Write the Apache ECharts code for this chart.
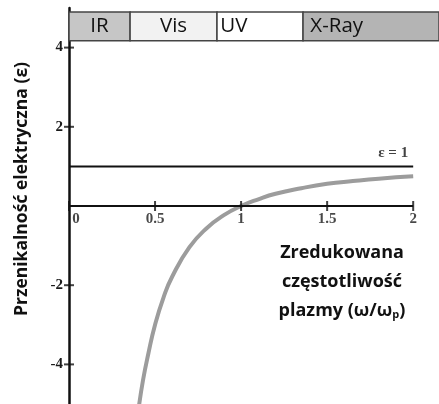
<!DOCTYPE html>
<html>
<head>
<meta charset="utf-8">
<script src="https://cdn.jsdelivr.net/npm/echarts@6/dist/echarts.min.js"></script>
<style>
  html, body { margin: 0; padding: 0; background: #fff; }
  #chart { width: 439px; height: 404px; }
</style>
</head>
<body>
<div id="chart"></div>
<script>
// values
const curveX = [0.405, 0.43, 0.46, 0.5, 0.55, 0.6, 0.7, 0.8, 0.9, 1.0, 1.1, 1.2, 1.35, 1.5, 1.65, 1.8, 2.0];
const curveY = [-5.1, -4.4, -3.75, -3.0, -2.3, -1.78, -1.04, -0.56, -0.23, 0, 0.17, 0.31, 0.45, 0.56, 0.63, 0.69, 0.75];
const xTicks = [0, 0.5, 1, 1.5, 2];
const yTicks = [4, 2, -2, -4];
const bandNames = ['IR', 'Vis', 'UV', 'X-Ray'];
const bandEdges = [0, 0.355, 0.86, 1.36, 2.15];
const bandColors = ['#c6c6c6', '#f2f2f2', '#ffffff', '#b4b4b4'];
const epsLine = [[0, 1], [2, 1]];

const serif = '"Liberation Serif", "DejaVu Serif", serif';
const sans = '"Open Sans", "Noto Sans", sans-serif';

const myChart = echarts.init(document.getElementById('chart'));

const bandData = bandNames.map((name, i) => {
  const centred = i < 2;
  return [
    {
      xAxis: bandEdges[i], yAxis: 4.17,
      itemStyle: { color: bandColors[i], borderColor: '#444', borderWidth: 1.5 },
      label: {
        show: true, formatter: name,
        position: centred ? 'inside' : 'insideLeft',
        distance: i === 3 ? 8 : 4,
        color: '#111', fontFamily: sans, fontWeight: 500, fontSize: 20.5
      }
    },
    { xAxis: bandEdges[i + 1], yAxis: 4.9 }
  ];
});

const tickLabel = {
  color: '#1a1a1a', fontFamily: serif, fontWeight: 'bold', fontSize: 15
};

const option = {
  animation: false,
  grid: { left: 69, right: 0, top: 8, bottom: 0, containLabel: false },
  xAxis: {
    type: 'value', min: 0, max: 2.15,
    axisLine: { show: false },
    axisTick: { show: false },
    splitLine: { show: false },
    axisLabel: { show: false }
  },
  yAxis: {
    type: 'value', min: -5, max: 5,
    axisLine: { show: true, lineStyle: { color: '#111', width: 2.5 } },
    axisTick: { show: false },
    splitLine: { show: false },
    axisLabel: Object.assign({ customValues: yTicks, margin: 6 }, tickLabel)
  },
  series: [
    {
      name: 'band',
      type: 'line',
      data: [],
      markArea: { silent: true, data: bandData }
    },
    {
      name: 'curve',
      type: 'line',
      smooth: true,
      showSymbol: false,
      lineStyle: { color: '#9c9c9c', width: 4 },
      data: curveX.map((x, i) => [x, curveY[i]]),
      z: 2
    },
    {
      name: 'xaxis',
      type: 'line',
      showSymbol: false,
      lineStyle: { color: '#111', width: 2 },
      data: [[xTicks[0], 0], [xTicks[xTicks.length - 1], 0]],
      z: 3
    },
    {
      name: 'eps1',
      type: 'line',
      showSymbol: false,
      lineStyle: { color: '#111', width: 2 },
      data: epsLine,
      z: 3
    },
    {
      name: 'eps1label',
      type: 'scatter',
      symbolSize: 0,
      data: [epsLine[1]],
      label: Object.assign({
        show: true, position: 'top', distance: 6, offset: [-20, 0],
        formatter: 'ε = 1'
      }, tickLabel, { color: '#111' })
    },
    {
      // x ticks crossing the axis, with their labels underneath
      name: 'xticks',
      type: 'scatter',
      symbol: 'rect',
      symbolSize: [2, 10],
      itemStyle: { color: '#111' },
      data: xTicks.map(x => ({
        value: [x, 0],
        label: { offset: [x === 0 ? 7 : 0, 0] }
      })),
      label: Object.assign({
        show: true, position: 'bottom', distance: 1,
        formatter: p => String(p.value[0])
      }, tickLabel),
      z: 4
    },
    {
      name: 'yticks',
      type: 'scatter',
      symbol: 'rect',
      symbolSize: [10, 2],
      itemStyle: { color: '#111' },
      data: yTicks.map(y => [0, y]),
      z: 4
    }
  ],
  graphic: [
    {
      type: 'text',
      x: 22, y: 189,
      rotation: Math.PI / 2,
      style: {
        text: 'Przenikalność elektryczna (ε)',
        font: 'bold 17.5px ' + sans,
        fill: '#111',
        textAlign: 'center',
        textVerticalAlign: 'middle'
      }
    },
    {
      type: 'text',
      x: 342, y: 238,
      style: {
        text: 'Zredukowana\nczęstotliwość\nplazmy (ω/ω{p|p})',
        font: 'bold 18px ' + sans,
        fill: '#111',
        lineHeight: 29,
        textAlign: 'center',
        rich: {
          p: { fontSize: 11, fontWeight: 'bold', fontFamily: sans, verticalAlign: 'middle', padding: [9, 0, 0, 0] }
        }
      }
    }
  ]
};

myChart.setOption(option);
</script>
</body>
</html>
